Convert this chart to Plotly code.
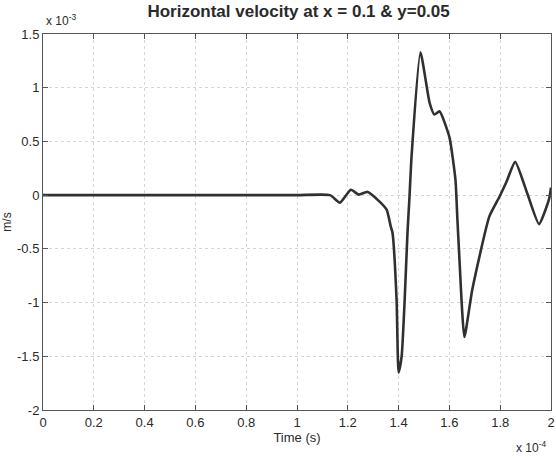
import plotly.graph_objects as go

# Time in units of 1e-4 s, velocity in units of 1e-3 m/s
time_e4 = [0.0, 0.5, 1.0, 1.13, 1.169, 1.212, 1.243, 1.278, 1.325, 1.353, 1.369, 1.376,
           1.392, 1.400, 1.412, 1.424, 1.435, 1.443, 1.451, 1.486, 1.522, 1.541, 1.561,
           1.600, 1.624, 1.631, 1.639, 1.659, 1.690, 1.757, 1.796, 1.824, 1.859, 1.906,
           1.953, 1.992, 2.0]
velocity_e3 = [0.0, 0.0, 0.0, 0.0, -0.07, 0.05, 0.005, 0.03, -0.06, -0.135, -0.29, -0.35,
               -0.97, -1.65, -1.50, -0.97, -0.35, -0.01, 0.36, 1.33, 0.86, 0.75, 0.78,
               0.54, 0.14, -0.20, -0.57, -1.32, -0.88, -0.20, -0.02, 0.12, 0.31, 0.02,
               -0.27, -0.04, 0.07]

x_ticks = [0, 0.2, 0.4, 0.6, 0.8, 1, 1.2, 1.4, 1.6, 1.8, 2]
x_ticklabels = ["0", "0.2", "0.4", "0.6", "0.8", "1", "1.2", "1.4", "1.6", "1.8", "2"]
y_ticks = [-2, -1.5, -1, -0.5, 0, 0.5, 1, 1.5]
y_ticklabels = ["-2", "-1.5", "-1", "-0.5", "0", "0.5", "1", "1.5"]

title_text = "Horizontal velocity at x = 0.1 & y=0.05"
x_label = "Time (s)"
y_label = "m/s"

font_family = "Liberation Sans, Arial, sans-serif"
ink = "#2a2a2a"

fig = go.Figure()
fig.add_trace(go.Scatter(
    x=time_e4, y=velocity_e3, mode="lines",
    line=dict(color="#303030", width=2.6, shape="spline", smoothing=0.5),
    showlegend=False,
))

axis_common = dict(
    showline=True, linecolor="#555555", linewidth=1, mirror="ticks",
    ticks="inside", ticklen=5, tickcolor="#555555",
    showgrid=True, gridcolor="#d6d6d6", griddash="dot", gridwidth=1,
    zeroline=False, automargin=False, ticklabeloverflow="allow",
    tickfont=dict(family=font_family, size=13, color=ink),
)

fig.update_xaxes(range=[0, 2.00001], tickvals=x_ticks, ticktext=x_ticklabels,
                 title=dict(text=x_label, font=dict(family=font_family, size=13, color=ink), standoff=2),
                 **axis_common)
fig.update_yaxes(range=[-2, 1.5], tickvals=y_ticks, ticktext=y_ticklabels,
                 title=dict(text=y_label, font=dict(family=font_family, size=12, color=ink), standoff=2),
                 **axis_common)

fig.update_layout(
    width=556, height=460,
    margin=dict(l=43, r=5, t=34, b=50),
    paper_bgcolor="white", plot_bgcolor="white",
    title=dict(text="<b>" + title_text + "</b>", x=0.537, xanchor="center", y=0.99, yanchor="top",
               font=dict(family=font_family, size=17, color=ink)),
    annotations=[
        dict(text="x 10<sup>-3</sup>", xref="paper", yref="paper", x=0.0, y=1.0,
             xanchor="left", yanchor="bottom", showarrow=False, yshift=4, xshift=1,
             font=dict(family=font_family, size=12, color=ink)),
        dict(text="x 10<sup>-4</sup>", xref="paper", yref="paper", x=0.995, y=0.0,
             xanchor="right", yanchor="top", showarrow=False, yshift=-27,
             font=dict(family=font_family, size=12, color=ink)),
    ],
)

fig.write_html("out.html", config={"displayModeBar": False},
               post_script="document.body.style.margin='0px';document.body.style.overflow='hidden';")
